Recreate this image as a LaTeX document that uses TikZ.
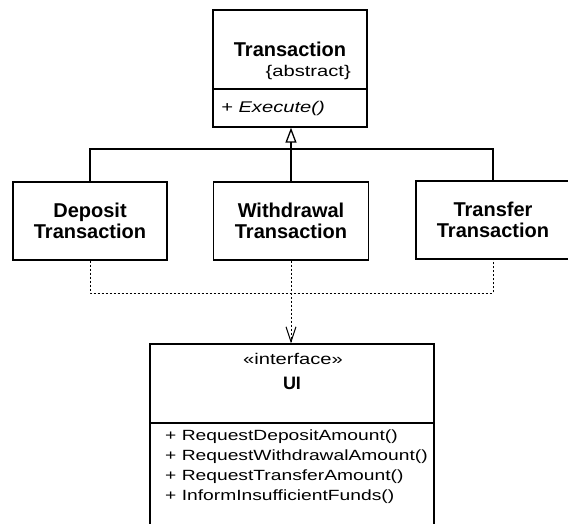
\documentclass[tikz,border=0pt]{standalone}
\usepackage{fontspec}
\setmainfont{Liberation Sans}
\newfontfamily\widefont[FakeStretch=1.3]{Liberation Sans}
\usetikzlibrary{arrows.meta}
\tikzset{
  umlbox/.style={draw=black, line width=1.3pt, inner sep=0pt},
  cname/.style={font=\fontsize{20}{21}\selectfont\bfseries, align=center, inner sep=0pt},
  mtext/.style={font=\widefont\fontsize{14.8}{18}\selectfont, inner sep=0pt, anchor=west},
  gen/.style={line width=1.3pt, -{Triangle[open, length=15pt, width=11pt, line width=1.3pt]}},
  dep/.style={line width=1pt, dash pattern=on 2pt off 2pt},
  deparrow/.style={dep, -{Straight Barb[length=15pt, width=10pt, line width=1pt]}}
}
\begin{document}
\begin{tikzpicture}[x=1pt, y=-1pt]
\useasboundingbox (0,0) rectangle (568,524);
% boxes
\node[umlbox, minimum width=154pt, minimum height=117pt] (trans) at (290,68.5) {};
\node[umlbox, minimum width=154pt, minimum height=78pt] (dep) at (90,221) {};
\node[umlbox, minimum width=155pt, minimum height=78pt] (wd) at (291,221) {};
\node[umlbox, minimum width=158pt, minimum height=78pt] (tf) at (495,220) {};
\node[umlbox, minimum width=284pt, minimum height=182pt] (ui) at (292,435) {};
% compartments
\draw[line width=1.3pt] (trans.west |- 0,89) -- (trans.east |- 0,89);
\draw[line width=1.3pt] (ui.west |- 0,423) -- (ui.east |- 0,423);
% texts
\node[cname] (tname) at (290,49) {Transaction};
\node[font=\widefont\fontsize{15.5}{18}\selectfont, inner sep=0pt, anchor=east] (tabs) at (351,72) {\{abstract\}};
\node[mtext, font=\widefont\fontsize{15.5}{18}\selectfont\itshape] (texec) at (221,108) {+ Execute()};
\node[cname] (dname) at (dep.center) {Deposit\\Transaction};
\node[cname] (wname) at (wd.center) {Withdrawal\\Transaction};
\node[cname] (fname) at (493,220) {Transfer\\Transaction};
\node[font=\widefont\fontsize{15.5}{18}\selectfont, inner sep=0pt] (stereo) at (293,359) {«interface»};
\node[font=\fontsize{18}{20}\selectfont\bfseries, inner sep=0pt] (uiname) at (292,383) {UI};
\node[mtext] (m1) at (165,437) {+ RequestDepositAmount()};
\node[mtext] (m2) at (165,457) {+ RequestWithdrawalAmount()};
\node[mtext] (m3) at (165,477) {+ RequestTransferAmount()};
\node[mtext] (m4) at (165,497) {+ InformInsufficientFunds()};
% generalization
\coordinate (bar) at (291,149);
\coordinate (tftop) at (493,181);
\coordinate (tfbot) at (493,259);
\draw[line width=1.3pt] (dep.north) |- (bar) -| (tftop);
\draw[gen] (wd.north) -- (wd.north |- trans.south);
% dependencies
\coordinate (dbar) at (292,293);
\draw[dep] (dep.south) |- (dbar) -| (tfbot);
\draw[deparrow] (wd.south) -- (ui.north -| wd.south);
\end{tikzpicture}
\end{document}
